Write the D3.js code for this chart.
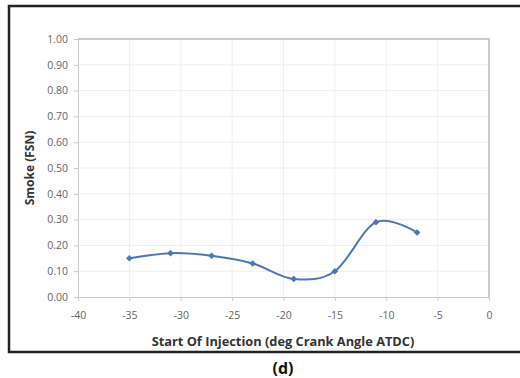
<!DOCTYPE html>
<html>
<head>
<meta charset="utf-8">
<script src="https://cdnjs.cloudflare.com/ajax/libs/d3/7.8.5/d3.min.js"></script>
<style>
body { margin: 0; background: #fff; }
svg { display: block; }
.tick text { font-family: "Open Sans", Lato, sans-serif; font-size: 10.5px; fill: #666; }
.ttl { font-family: "Open Sans", Lato, sans-serif; font-weight: bold; fill: #333; }
</style>
</head>
<body>
<svg id="chart" width="520" height="378"></svg>
<script>
// start of injection (deg CA ATDC) and smoke (FSN)
var soi = [-35, -31, -27, -23, -19, -15, -11, -7];
var smoke = [0.15, 0.17, 0.16, 0.13, 0.07, 0.10, 0.29, 0.25];
var xTicks = [-40, -35, -30, -25, -20, -15, -10, -5, 0];
var yTicks = [0, 0.1, 0.2, 0.3, 0.4, 0.5, 0.6, 0.7, 0.8, 0.9, 1.0];

var svg = d3.select('#chart');
var margin = {left: 78, top: 39, right: 31, bottom: 81};
var W = 520, H = 378;

var x = d3.scaleLinear().domain([-40, 0]).range([margin.left, W - margin.right]);
var y = d3.scaleLinear().domain([0, 1]).range([H - margin.bottom, margin.top]);

// outer frame
svg.append('rect')
	.attr('x', 9).attr('y', 6)
	.attr('width', 520).attr('height', 346)
	.attr('fill', 'none').attr('stroke', '#222').attr('stroke-width', 2.5);

// grid
var grid = svg.append('g');
grid.selectAll('.gx').data(xTicks.slice(1, -1)).enter().append('line')
	.attr('x1', function (d) { return x(d); }).attr('x2', function (d) { return x(d); })
	.attr('y1', y(0)).attr('y2', y(1))
	.attr('stroke', '#f0f0f0').attr('stroke-width', 1);
grid.selectAll('.gy').data(yTicks.slice(1, -1)).enter().append('line')
	.attr('x1', x(-40)).attr('x2', x(0))
	.attr('y1', function (d) { return y(d); }).attr('y2', function (d) { return y(d); })
	.attr('stroke', '#eee').attr('stroke-width', 1);

// plot border (top and right)
svg.append('path')
	.attr('d', 'M' + x(-40) + ',' + y(1) + 'H' + x(0) + 'V' + y(0))
	.attr('fill', 'none').attr('stroke', '#bbb').attr('stroke-width', 1.5);

// axes, plain hyphen for minus like the source
var hy = function (s) { return s.replace('\u2212', '-'); };
var xAxis = d3.axisBottom(x).tickValues(xTicks).tickSize(4).tickPadding(11)
	.tickFormat(function (d) { return hy(d3.format('d')(d)); });
svg.append('g').attr('transform', 'translate(0,' + y(0) + ')').call(xAxis)
	.call(function (g) {
		g.select('.domain').attr('stroke', '#ccc');
		g.selectAll('.tick line').attr('stroke', '#ccc');
	});

var yAxis = d3.axisLeft(y).tickValues(yTicks).tickSize(4).tickPadding(6)
	.tickFormat(d3.format('.2f'));
svg.append('g').attr('transform', 'translate(' + x(-40) + ',0)').call(yAxis)
	.call(function (g) {
		g.select('.domain').attr('stroke', '#ccc');
		g.selectAll('.tick line').attr('stroke', '#ccc');
	});

// smoothed series
var pts = soi.map(function (d, i) { return [d, smoke[i]]; });
var line = d3.line()
	.x(function (d) { return x(d[0]); })
	.y(function (d) { return y(d[1]); })
	.curve(d3.curveCardinal.tension(0));

svg.append('path').datum(pts)
	.attr('d', line)
	.attr('fill', 'none').attr('stroke', '#4a78b8').attr('stroke-width', 2);

svg.selectAll('.mk').data(pts).enter().append('path')
	.attr('class', 'mk')
	.attr('transform', function (d) { return 'translate(' + x(d[0]) + ',' + y(d[1]) + ') rotate(45)'; })
	.attr('d', d3.symbol().type(d3.symbolSquare).size(22))
	.attr('fill', '#4a78b8');

// titles
svg.append('text').attr('class', 'ttl')
	.attr('x', 283).attr('y', 346)
	.attr('text-anchor', 'middle').attr('font-size', 12.8)
	.text('Start Of Injection (deg Crank Angle ATDC)');

svg.append('text').attr('class', 'ttl')
	.attr('transform', 'translate(34,168) rotate(-90)')
	.attr('text-anchor', 'middle').attr('font-size', 12)
	.text('Smoke (FSN)');

svg.append('text').attr('class', 'ttl')
	.attr('x', 283).attr('y', 374)
	.attr('text-anchor', 'middle').attr('font-size', 16)
	.style('fill', '#111')
	.text('(d)');
</script>
</body>
</html>
